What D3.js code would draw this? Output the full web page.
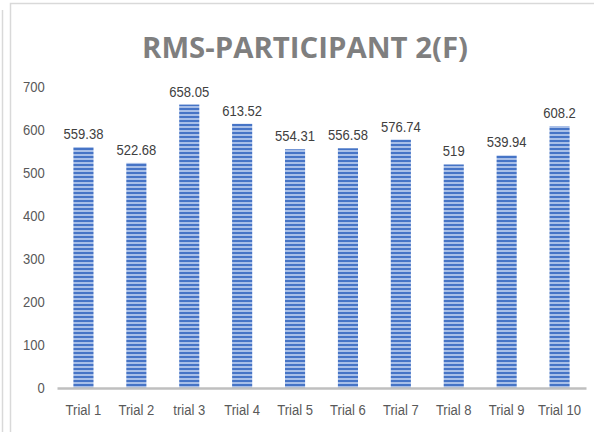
<!DOCTYPE html>
<html>
<head>
<meta charset="utf-8">
<script src="https://cdn.jsdelivr.net/npm/d3@7"></script>
<style>
  body { margin: 0; background: #fff; }
  svg { display: block; }
  .lbl { font-family: "Liberation Sans", sans-serif; fill: #595959; font-size: 15px; }
</style>
</head>
<body>
<div id="chart"></div>
<script>
// chart data
var categories = ['Trial 1', 'Trial 2', 'trial 3', 'Trial 4', 'Trial 5',
  'Trial 6', 'Trial 7', 'Trial 8', 'Trial 9', 'Trial 10'];
var rmsValues = [559.38, 522.68, 658.05, 613.52, 554.31, 556.58, 576.74, 519, 539.94, 608.2];
var valueLabels = ['559.38', '522.68', '658.05', '613.52', '554.31',
  '556.58', '576.74', '519', '539.94', '608.2'];
var yTicks = [0, 100, 200, 300, 400, 500, 600, 700];
var chartTitle = 'RMS-PARTICIPANT 2(F)';

var width = 594, height = 432;
var padding = { top: 87, left: 57, bottom: 44, right: 8 };
// the labels in the original are a narrow face; squeeze them horizontally
var squeeze = 'scale(0.87,1)';

var svg = d3.select('#chart').append('svg')
  .attr('width', width)
  .attr('height', height);

// striped fill for the bars
var defs = svg.append('defs');
var pat = defs.append('pattern')
  .attr('id', 'stripes')
  .attr('patternUnits', 'userSpaceOnUse')
  .attr('width', 8)
  .attr('height', 4);
pat.append('rect').attr('width', 8).attr('height', 4).attr('fill', '#a8bfe8');
pat.append('rect').attr('width', 8).attr('height', 2).attr('fill', '#4674c6');

// frame lines
svg.append('line')
  .attr('x1', 2.5).attr('x2', 2.5).attr('y1', 10).attr('y2', height)
  .attr('stroke', '#d9d9d9').attr('stroke-width', 1.5);
svg.append('path')
  .attr('d', 'M10.5,' + height + 'V3.5H' + width)
  .attr('fill', 'none')
  .attr('stroke', '#d9d9d9').attr('stroke-width', 1.5);

svg.append('text')
  .attr('x', 305)
  .attr('y', 58)
  .attr('text-anchor', 'middle')
  .attr('textLength', 326)
  .attr('lengthAdjust', 'spacingAndGlyphs')
  .style('font-family', '"Open Sans", sans-serif')
  .style('font-weight', 'bold')
  .style('font-size', '28px')
  .style('fill', '#7f7f7f')
  .text(chartTitle);

var x = d3.scaleBand()
  .domain(categories)
  .range([padding.left, width - padding.right])
  .paddingInner(0.62)
  .paddingOuter(0.31);

var y = d3.scaleLinear()
  .domain([0, 700])
  .range([height - padding.bottom, padding.top - 0.5]);

var g = svg.append('g');

g.selectAll('rect.bar')
  .data(rmsValues)
  .enter()
  .append('rect')
  .attr('class', 'bar')
  .attr('x', function(d, i) { return x(categories[i]); })
  .attr('y', function(d) { return y(d); })
  .attr('width', x.bandwidth())
  .attr('height', function(d) { return y(0) - y(d); })
  .attr('fill', 'url(#stripes)');

g.selectAll('g.val')
  .data(rmsValues)
  .enter()
  .append('g')
  .attr('class', 'val')
  .attr('transform', function(d, i) {
    return 'translate(' + (x(categories[i]) + x.bandwidth() / 2) + ',' + (y(d) - 8) + ')';
  })
  .append('text')
  .attr('class', 'lbl')
  .attr('transform', squeeze)
  .attr('text-anchor', 'middle')
  .style('fill', '#404040')
  .text(function(d, i) { return valueLabels[i]; });

var yAxis = d3.axisLeft(y).tickValues(yTicks).tickSize(0).tickPadding(14);
var yg = svg.append('g')
  .attr('transform', 'translate(' + padding.left + ',0)')
  .call(yAxis);
yg.select('.domain').remove();
yg.selectAll('text')
  .attr('class', 'lbl')
  .attr('transform', squeeze);

var xAxis = d3.axisBottom(x).tickSize(0).tickPadding(16);
var xg = svg.append('g')
  .attr('transform', 'translate(0,' + y(0) + ')')
  .call(xAxis);
xg.select('.domain')
  .attr('stroke', '#bfbfbf')
  .attr('stroke-width', 2.5);
xg.selectAll('text')
  .attr('class', 'lbl')
  .attr('transform', squeeze);
</script>
</body>
</html>
